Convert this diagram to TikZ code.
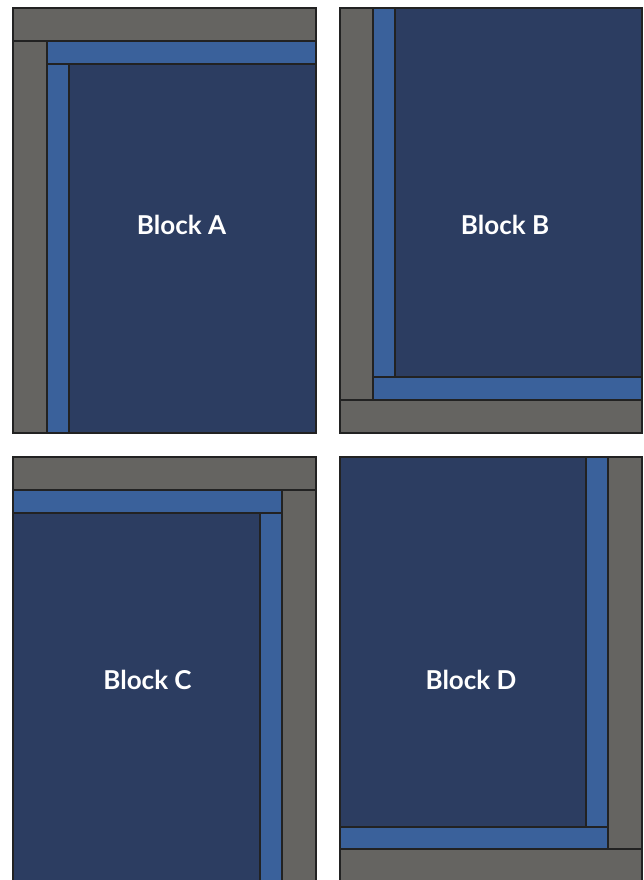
\documentclass[tikz,border=0pt]{standalone}
\usepackage{fontspec}
\setmainfont{Lato}
\definecolor{grayb}{HTML}{656461}
\definecolor{bluel}{HTML}{3A619B}
\definecolor{blued}{HTML}{2C3D61}
\definecolor{edge}{HTML}{222222}
\tikzset{
  gr/.style={fill=grayb,draw=edge,line width=1.2pt},
  bl/.style={fill=bluel,draw=edge,line width=1.2pt},
  dk/.style={fill=blued,draw=edge,line width=1.2pt},
  lbl/.style={text=white,font=\bfseries\fontsize{26}{31}\selectfont,inner sep=0pt}
}
\begin{document}
\begin{tikzpicture}[x=1pt,y=-1pt]
\useasboundingbox (0,0) rectangle (643,880);
\clip (0,0) rectangle (643,880);
% Block A
\draw[dk] (69,64) rectangle (316,433);
\draw[bl] (47,64) rectangle (69,433);
\draw[bl] (47,41) rectangle (316,64);
\draw[gr] (13,41) rectangle (47,433);
\draw[gr] (13,8) rectangle (316,41);
\node[lbl] (la) at (181.5,225) {Block A};
% Block B
\draw[dk] (395,8) rectangle (642,377);
\draw[bl] (373,8) rectangle (395,377);
\draw[bl] (373,377) rectangle (642,400);
\draw[gr] (340,8) rectangle (373,400);
\draw[gr] (340,400) rectangle (642,433);
\node[lbl] (lb) at (505,225) {Block B};
% Block C
\draw[dk] (13,513) rectangle (260,882);
\draw[bl] (260,513) rectangle (282,882);
\draw[bl] (13,490) rectangle (282,513);
\draw[gr] (282,490) rectangle (316,882);
\draw[gr] (13,457) rectangle (316,490);
\node[lbl] (lc) at (147.5,680) {Block C};
% Block D
\draw[dk] (340,457) rectangle (586,827);
\draw[bl] (586,457) rectangle (608,827);
\draw[bl] (340,827) rectangle (608,849);
\draw[gr] (608,457) rectangle (642,849);
\draw[gr] (340,849) rectangle (642,882);
\node[lbl] (ld) at (471,680) {Block D};
\end{tikzpicture}
\end{document}
